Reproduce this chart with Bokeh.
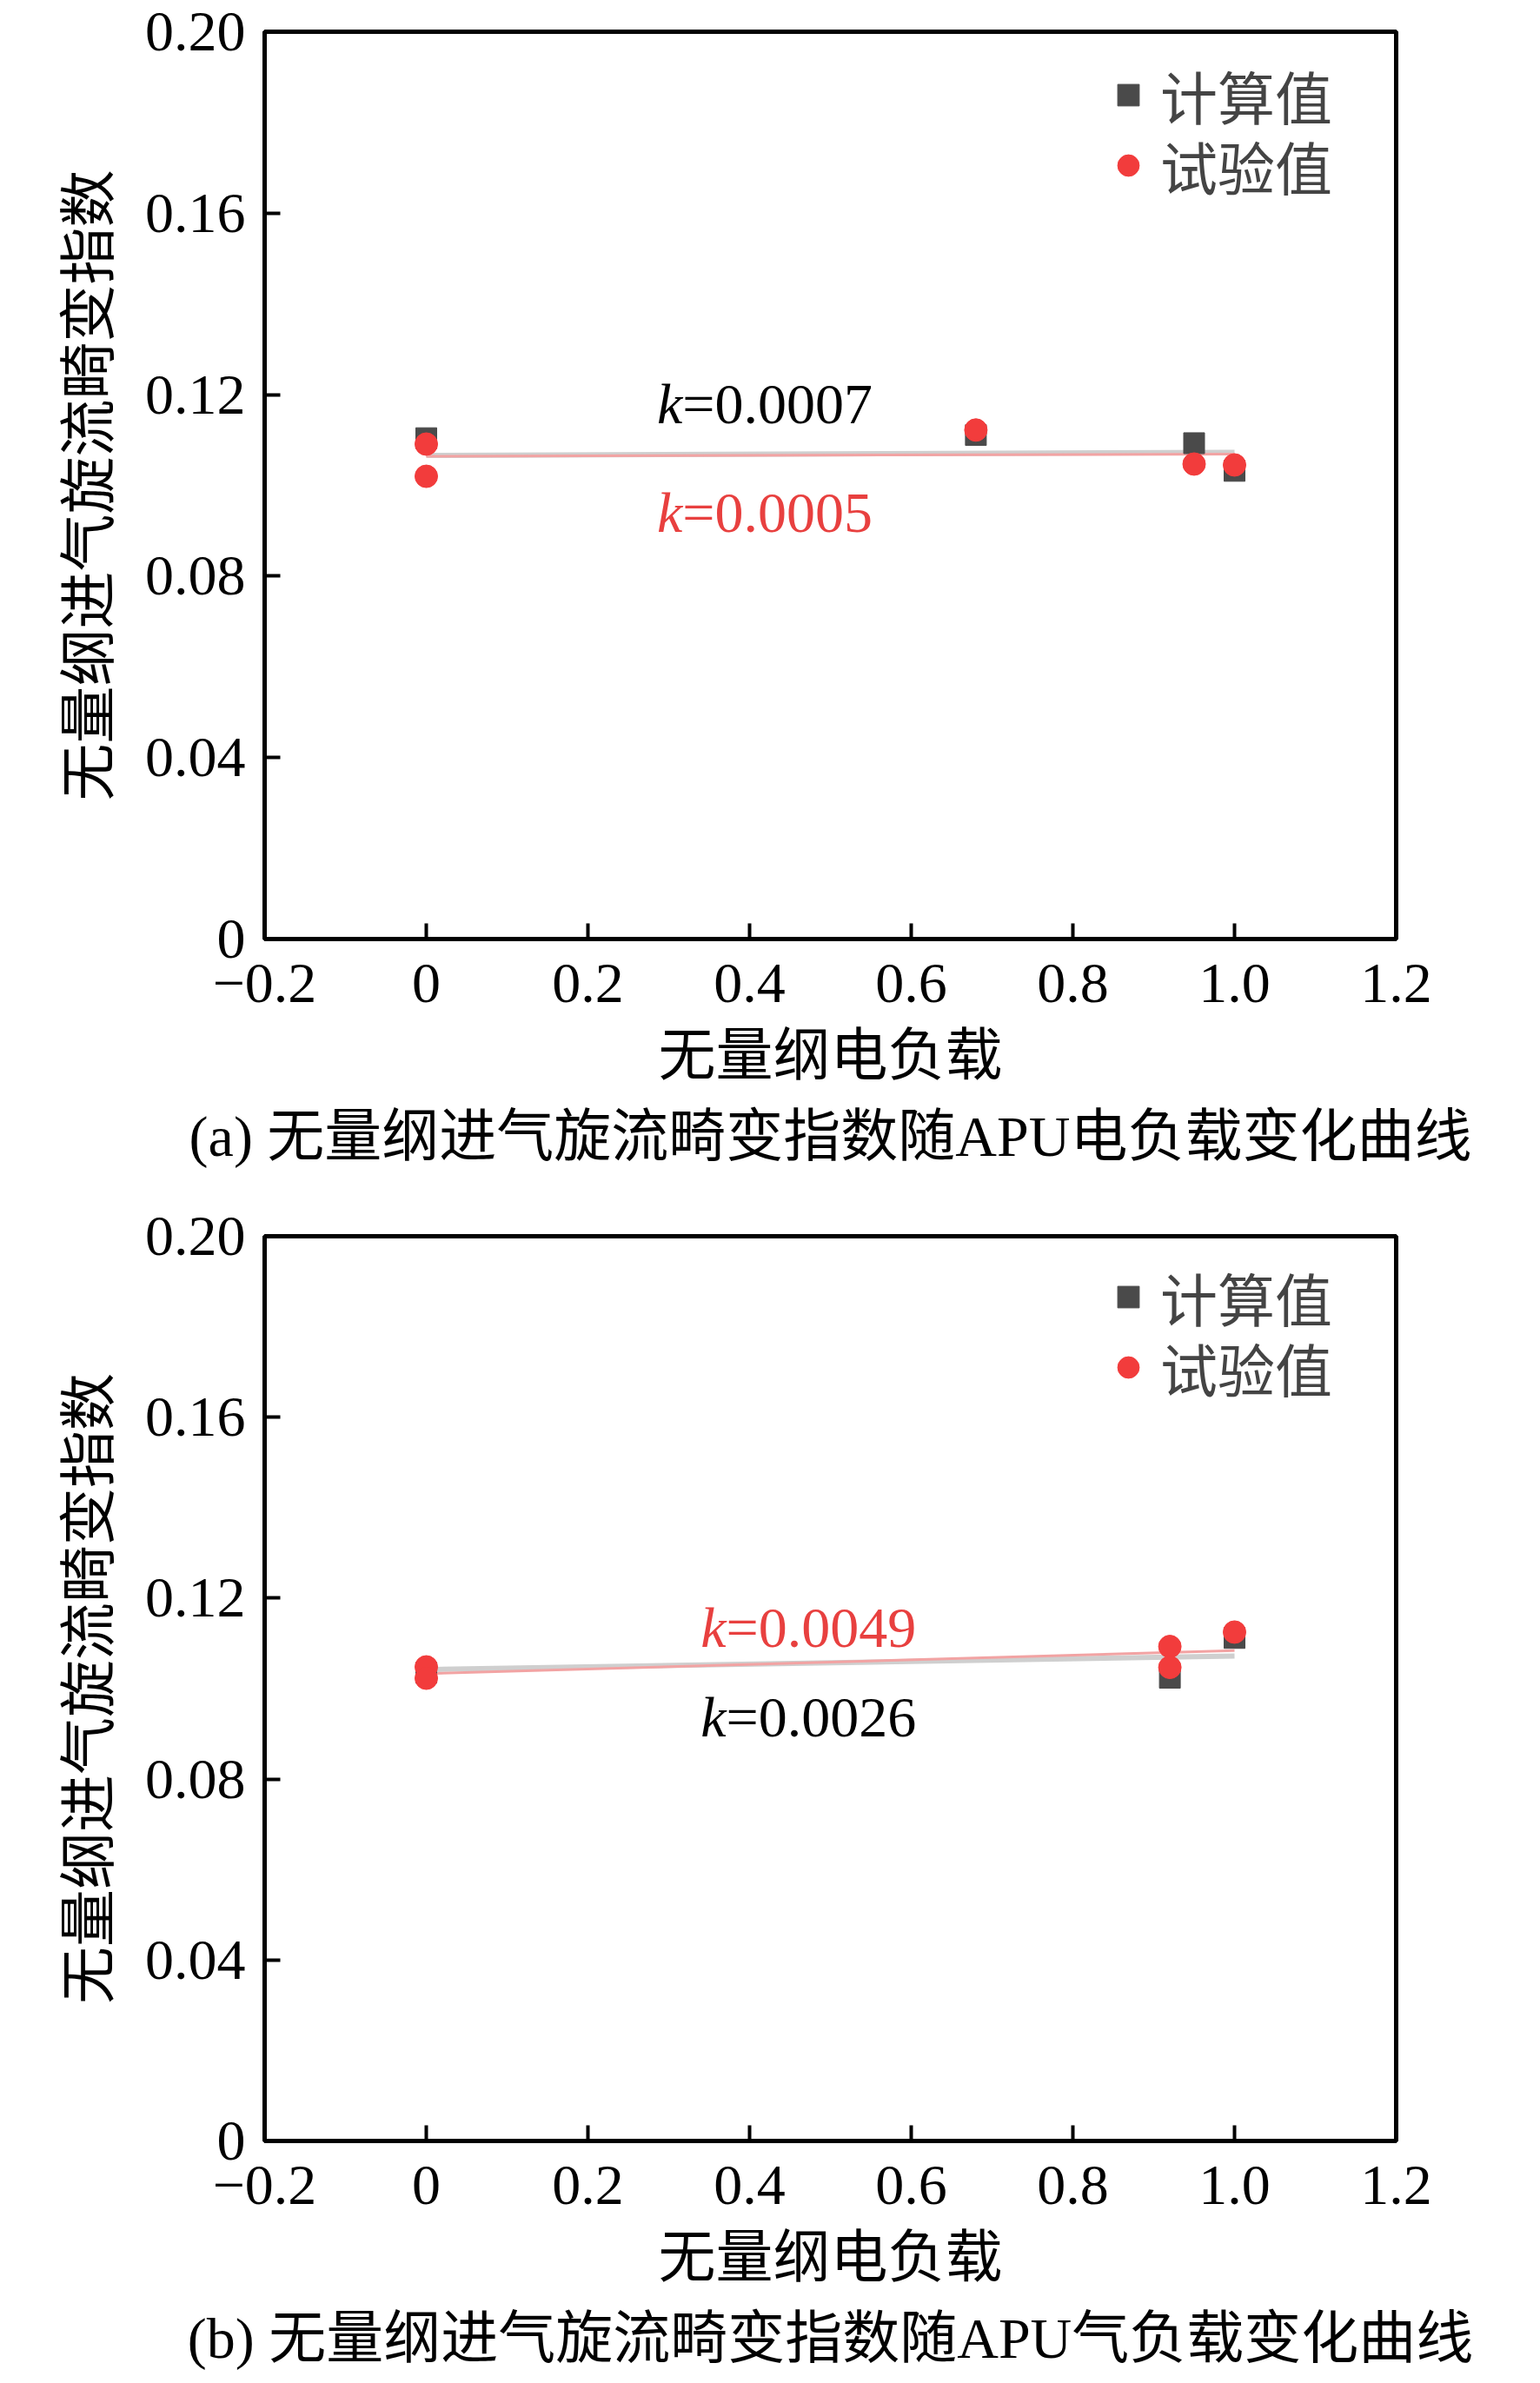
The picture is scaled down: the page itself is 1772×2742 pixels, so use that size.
from bokeh.plotting import figure
from bokeh.layouts import column
from bokeh.models import Range1d, FixedTicker, Legend, Label, Title
from bokeh.embed import file_html
from bokeh.resources import INLINE

# ---------------- data ----------------
x_ticks = [-0.2, 0.0, 0.2, 0.4, 0.6, 0.8, 1.0, 1.2]
x_tick_labels = ["−0.2", "0", "0.2", "0.4", "0.6", "0.8", "1.0", "1.2"]
y_ticks = [0.0, 0.04, 0.08, 0.12, 0.16, 0.20]
y_tick_labels = ["0", "0.04", "0.08", "0.12", "0.16", "0.20"]

series_names = ["计算值", "试验值"]
x_title = "无量纲电负载"
y_title = "无量纲进气旋流畸变指数"

# panel (a): electric load
a_calc_x = [0.0, 0.68, 0.95, 1.0]
a_calc_y = [0.1104, 0.1111, 0.1093, 0.1032]
a_test_x = [0.0, 0.0, 0.68, 0.95, 1.0]
a_test_y = [0.1091, 0.1020, 0.1122, 0.1047, 0.1045]
a_fit_x = [0.0, 1.0]
a_fit_calc_y = [0.1066, 0.1073]
a_fit_test_y = [0.1064, 0.1069]
a_k_calc = "=0.0007"
a_k_test = "=0.0005"
a_caption = "(a) 无量纲进气旋流畸变指数随APU电负载变化曲线"

# panel (b): bleed-air load
b_calc_x = [0.0, 0.92, 1.0]
b_calc_y = [0.1035, 0.1024, 0.1112]
b_test_x = [0.0, 0.0, 0.92, 0.92, 1.0]
b_test_y = [0.1048, 0.1023, 0.1093, 0.1047, 0.1125]
b_fit_x = [0.0, 1.0]
b_fit_calc_y = [0.1042, 0.1072]
b_fit_test_y = [0.1033, 0.1084]
b_k_calc = "=0.0026"
b_k_test = "=0.0049"
b_caption = "(b) 无量纲进气旋流畸变指数随APU气负载变化曲线"

# ---------------- style ----------------
SERIF = "'Liberation Serif', 'Noto Sans CJK SC'"
FS = "66px"
BLACK_MK = "#4a4a4a"
RED_MK = "#f23c3c"
RED_TXT = "#e8403f"


def panel(calc_x, calc_y, test_x, test_y, fit_x, fit_calc_y, fit_test_y,
          k_calc, k_test, k_x, k_calc_y, k_test_y, caption,
          height, border_top, border_bottom):
    p = figure(width=1772, height=height, output_backend="svg",
               toolbar_location=None,
               x_range=Range1d(-0.2, 1.2), y_range=Range1d(0, 0.2),
               min_border_left=304, min_border_right=166,
               min_border_top=border_top, min_border_bottom=border_bottom)
    p.grid.visible = False
    p.outline_line_color = "black"
    p.outline_line_width = 5

    for ax in (p.xaxis[0], p.yaxis[0]):
        ax.axis_line_width = 5
        ax.major_tick_line_width = 4
        ax.major_tick_in = 18
        ax.major_tick_out = 0
        ax.minor_tick_line_color = None
        ax.major_label_text_font = "Liberation Serif"
        ax.major_label_text_font_size = FS
        ax.major_label_text_color = "black"
        ax.axis_label_text_font = SERIF
        ax.axis_label_text_font_size = FS
        ax.axis_label_text_font_style = "normal"
        ax.axis_label_text_color = "black"

    p.xaxis.ticker = FixedTicker(ticks=x_ticks)
    p.xaxis.major_label_overrides = dict(zip(x_ticks, x_tick_labels))
    p.yaxis.ticker = FixedTicker(ticks=y_ticks)
    p.yaxis.major_label_overrides = dict(zip(y_ticks, y_tick_labels))
    p.xaxis.axis_label = x_title
    p.yaxis.axis_label = y_title
    p.xaxis.major_label_standoff = 29
    p.xaxis.axis_label_standoff = 22
    p.yaxis.major_label_standoff = 22
    p.yaxis.axis_label_standoff = 25

    # fitted lines
    p.line(fit_x, fit_calc_y, line_color="#cfcfcf", line_width=6)
    p.line(fit_x, fit_test_y, line_color="#f2a3a3", line_width=3)

    sq = p.scatter(calc_x, calc_y, marker="square", size=24,
                   fill_color=BLACK_MK, line_color=BLACK_MK)
    ci = p.scatter(test_x, test_y, marker="circle", size=26,
                   fill_color=RED_MK, line_color=RED_MK)

    # slope annotations
    for txt, yy, col in ((k_calc, k_calc_y, "black"), (k_test, k_test_y, RED_TXT)):
        p.add_layout(Label(x=k_x, y=yy, text="k", text_font="Liberation Serif",
                           text_font_size=FS, text_font_style="italic",
                           text_color=col, text_align="right",
                           text_baseline="middle"))
        p.add_layout(Label(x=k_x, y=yy, text=txt, text_font="Liberation Serif",
                           text_font_size=FS, text_color=col,
                           text_align="left", text_baseline="middle"))

    # legend: one entry per Legend so the rows can sit closer together
    for name, rend, loc_y in ((series_names[0], sq, 923),
                              (series_names[1], ci, 842)):
        lg = Legend(items=[(name, [rend])], location=(963, loc_y),
                    glyph_width=62, glyph_height=62,
                    label_standoff=6, spacing=0, padding=0, margin=0,
                    label_text_font=SERIF, label_text_font_size=FS,
                    border_line_color=None, background_fill_alpha=0)
        p.add_layout(lg)

    p.add_layout(Title(text=caption, align="center", text_font=SERIF,
                       text_font_size=FS, text_font_style="normal",
                       text_color="black", standoff=31), "below")
    return p


pa = panel(a_calc_x, a_calc_y, a_test_x, a_test_y, a_fit_x, a_fit_calc_y,
           a_fit_test_y, a_k_calc, a_k_test, 0.317, 0.118, 0.094, a_caption,
           1370, 36, 290)
pb = panel(b_calc_x, b_calc_y, b_test_x, b_test_y, b_fit_x, b_fit_calc_y,
           b_fit_test_y, b_k_calc, b_k_test, 0.371, 0.0937, 0.1135, b_caption,
           1372, 52, 276)

layout = column(pa, pb, spacing=0)
open("out.html", "w").write(file_html(layout, INLINE))
